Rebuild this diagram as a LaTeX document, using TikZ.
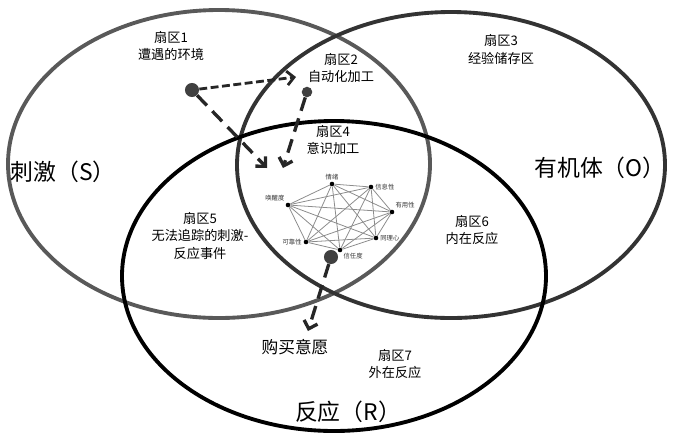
\documentclass[tikz,border=0pt]{standalone}
\usepackage{fontspec}
\setmainfont{Noto Sans CJK SC}
\usetikzlibrary{arrows.meta}

\begin{document}
\begin{tikzpicture}[x=0.02cm, y=-0.02cm,
    ring/.style={line width=2.2pt},
    sector/.style={font=\fontsize{7.5}{10.2}\selectfont, align=center, inner sep=0pt},
    bigname/.style={font=\fontsize{13}{15}\selectfont, inner sep=0pt},
    tinylabel/.style={font=\fontsize{3.6}{4}\selectfont, inner sep=0.8pt, text=black!80},
    vertex/.style={circle, fill=black, inner sep=0pt, minimum size=2.6pt},
    srcdot/.style={circle, fill=black!75, inner sep=0pt, minimum size=8pt},
    flow/.style={-{Straight Barb[length=4pt,width=8pt]}, line width=1.9pt, black!85, dash pattern=on 8pt off 4.5pt}]

\useasboundingbox (0,0) rectangle (673,437);

% S, O, R
\draw[ring, black!65] (219,164) ellipse [x radius=211, y radius=154];
\draw[ring, black!80] (451,165) ellipse [x radius=214, y radius=153];
\draw[ring, black] (334,276) ellipse [x radius=212, y radius=155];

\node[bigname] (stim) at (63,172) {刺激（S）};
\node[bigname] (orga) at (600,168) {有机体（O）};
\node[bigname] (resp) at (348,412) {反应（R）};

\node[sector] (sec1) at (171,46) {扇区1\\遭遇的环境};
\node[sector] (sec2) at (341,68) {扇区2\\自动化加工};
\node[sector] (sec3) at (501,49) {扇区3\\经验储存区};
\node[sector] (sec4) at (333,140) {扇区4\\意识加工};
\node[sector] (sec5) at (200,236) {扇区5\\无法追踪的刺激-\\反应事件};
\node[sector] (sec6) at (472,230) {扇区6\\内在反应};
\node[sector] (sec7) at (395,364) {扇区7\\外在反应};
\node[sector, font=\fontsize{9.5}{11}\selectfont] (want) at (295,347) {购买意愿};

% factor network
\foreach \n/\p/\pos/\t in {qx/{332,184}/above/情绪, xx/{371,187}/right/信息性,
    yy/{392,212}/above right/有用性, tl/{376,238}/right/同理心,
    xr/{340,250}/below right/信任度, kk/{306,242}/left/可靠性,
    hx/{288,205}/above left/唤醒度}
  \node[vertex, label={[tinylabel]\pos:\t}] (\n) at (\p) {};
\foreach \a [count=\i] in {qx,xx,yy,tl,xr,kk,hx}
  \foreach \b [count=\j] in {qx,xx,yy,tl,xr,kk,hx}
    {\ifnum\j>\i \draw[black!45, line width=0.45pt] (\a) -- (\b); \fi}

% flows
\node[srcdot] (env) at (192,90) {};
\node[srcdot, minimum size=6pt] (auto) at (307,92) {};
\node[srcdot] (cons) at (331,257) {};
\coordinate (envend) at (296,77);
\coordinate (envdown) at (267,168);
\coordinate (autodown) at (283,168);
\coordinate (wanttop) at (308,331);

\draw[flow, line width=1.6pt, dash pattern=on 4.5pt off 2pt] (env) -- (envend);
\draw[flow] (env) -- (envdown);
\draw[flow] (auto) -- (autodown);
\draw[flow] (cons) -- (wanttop);
\end{tikzpicture}
\end{document}
